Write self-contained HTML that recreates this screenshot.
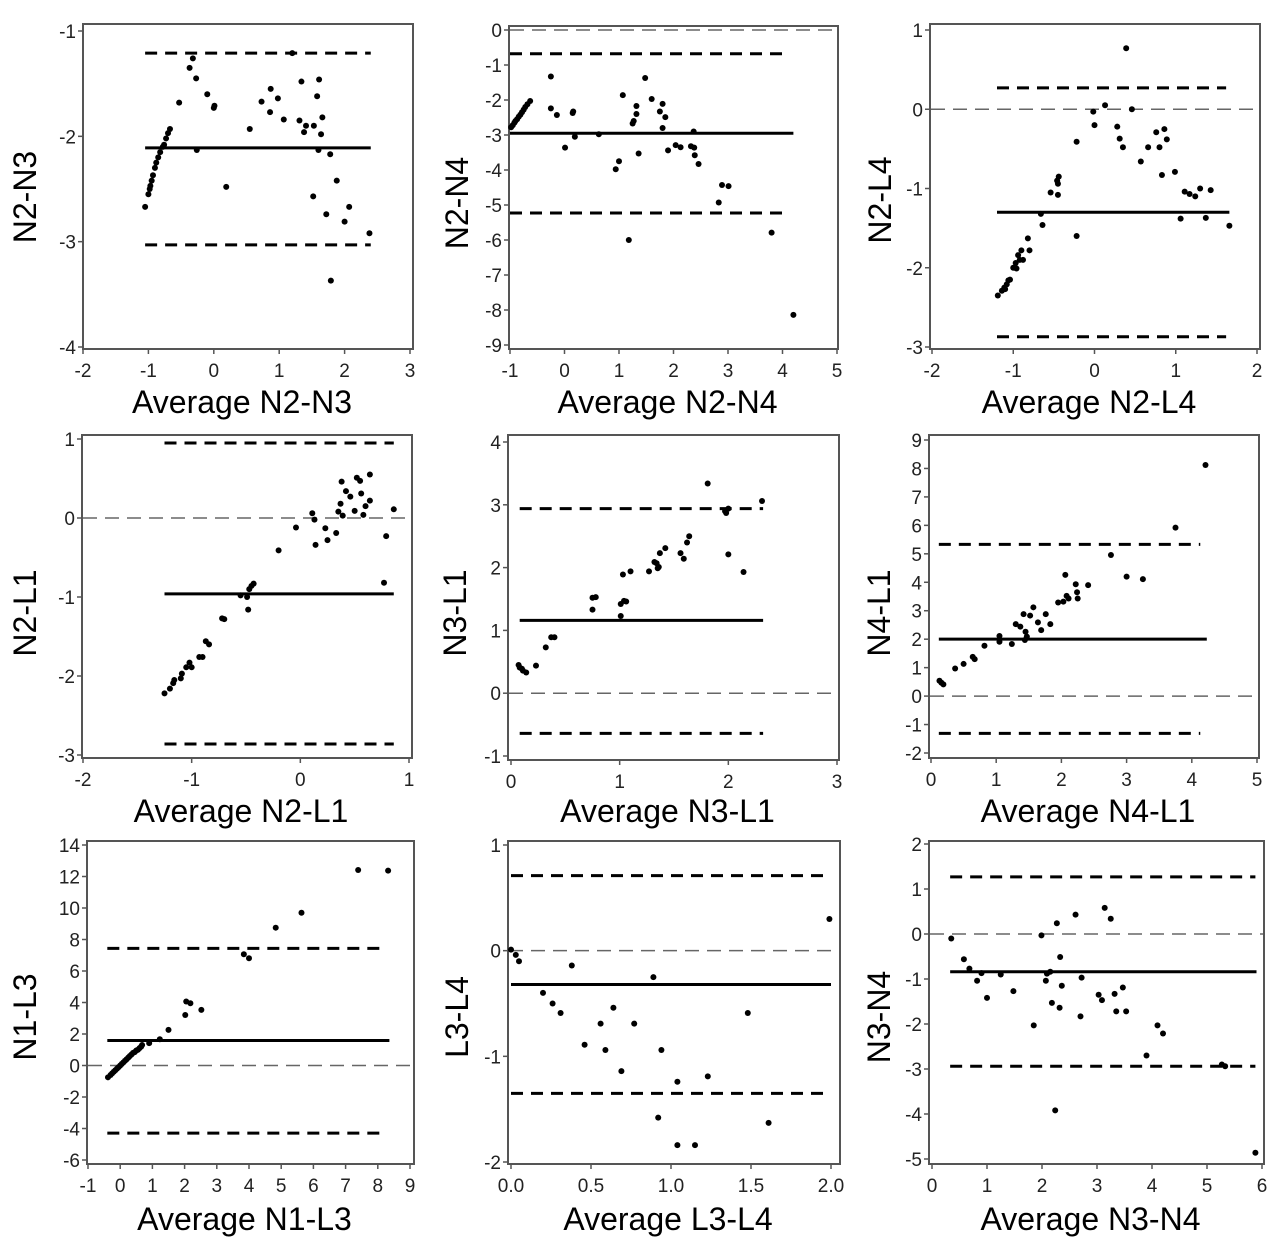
<!DOCTYPE html>
<html><head><meta charset="utf-8"><style>
html,body{margin:0;padding:0;background:#fff;}
svg{display:block;font-family:"Liberation Sans",Arial,sans-serif;}
</style></head><body>
<svg id="chart" width="1280" height="1250" viewBox="0 0 1280 1250" xmlns="http://www.w3.org/2000/svg"></svg>
<script>
// ---- data (averages, differences, mean line, limits of agreement) ----
const p1Avg=[-1.05,-1.0,-0.98,-0.97,-0.95,-0.93,-0.9,-0.88,-0.85,-0.82,-0.78,-0.76,-0.73,-0.7,-0.67,-0.53,-0.37,-0.32,-0.27,-0.26,-0.1,0,0.01,0.19,0.55,0.73,0.86,0.87,0.98,1.07,1.2,1.31,1.34,1.38,1.41,1.52,1.53,1.58,1.61,1.6,1.64,1.66,1.72,1.78,1.79,1.88,2.0,2.07,2.38];
const p1Diff=[-2.67,-2.55,-2.5,-2.47,-2.42,-2.37,-2.3,-2.25,-2.2,-2.15,-2.1,-2.08,-2.02,-1.97,-1.93,-1.68,-1.35,-1.26,-1.45,-2.13,-1.6,-1.73,-1.71,-2.48,-1.93,-1.67,-1.77,-1.55,-1.64,-1.84,-1.21,-1.85,-1.48,-1.96,-1.9,-2.57,-1.9,-1.62,-1.46,-2.13,-1.98,-1.82,-2.74,-2.17,-3.37,-2.42,-2.81,-2.67,-2.92];
const p1Lines=[-2.11,-1.21,-3.03];

const p2Avg=[-0.98,-0.95,-0.92,-0.9,-0.87,-0.84,-0.81,-0.78,-0.75,-0.72,-0.68,-0.63,-0.25,-0.25,-0.14,0.01,0.15,0.16,0.19,0.63,0.94,1.0,1.07,1.18,1.25,1.27,1.32,1.32,1.36,1.48,1.6,1.75,1.8,1.85,1.8,1.9,2.04,2.13,2.32,2.38,2.37,2.39,2.46,2.83,2.89,3.01,3.8,4.2];
const p2Diff=[-2.78,-2.72,-2.65,-2.6,-2.55,-2.48,-2.42,-2.35,-2.28,-2.2,-2.12,-2.03,-1.33,-2.24,-2.43,-3.36,-2.37,-2.33,-3.05,-2.98,-3.98,-3.75,-1.86,-6.0,-2.67,-2.6,-2.17,-2.4,-3.53,-1.37,-1.97,-2.33,-2.11,-2.49,-2.8,-3.44,-3.29,-3.35,-3.32,-3.36,-2.9,-3.58,-3.83,-4.93,-4.43,-4.46,-5.79,-8.14];
const p2Lines=[-2.95,-0.68,-5.23];

const p3Avg=[-1.19,-1.14,-1.11,-1.08,-1.04,-1.0,-0.97,-0.94,-0.9,-0.88,-0.82,-0.8,-1.1,-1.06,-0.96,-0.92,-0.66,-0.64,-0.54,-0.45,-0.46,-0.44,-0.45,-0.22,-0.22,-0.015,0,0.13,0.39,0.46,0.28,0.31,0.35,0.57,0.66,0.76,0.8,0.83,0.86,0.89,0.99,1.06,1.11,1.17,1.24,1.3,1.37,1.43,1.66];
const p3Diff=[-2.35,-2.29,-2.25,-2.21,-2.15,-2.0,-1.94,-1.84,-1.78,-1.9,-1.63,-1.78,-2.27,-2.16,-2.01,-1.9,-1.32,-1.46,-1.05,-1.08,-0.9,-0.85,-0.94,-0.41,-1.6,-0.03,-0.2,0.05,0.77,0.0,-0.22,-0.37,-0.48,-0.66,-0.48,-0.29,-0.48,-0.83,-0.25,-0.38,-0.79,-1.38,-1.04,-1.07,-1.1,-1.0,-1.37,-1.02,-1.47];
const p3Lines=[-1.3,0.27,-2.87];

const p4Avg=[-1.25,-1.2,-1.17,-1.16,-1.1,-1.09,-1.05,-1.02,-1.0,-0.93,-0.9,-0.87,-0.84,-0.72,-0.7,-0.55,-0.49,-0.48,-0.47,-0.45,-0.43,-0.2,-0.04,0.11,0.13,0.14,0.23,0.25,0.33,0.35,0.37,0.38,0.39,0.42,0.46,0.5,0.52,0.55,0.56,0.58,0.6,0.64,0.64,0.77,0.79,0.86];
const p4Diff=[-2.22,-2.16,-2.09,-2.05,-2.03,-1.97,-1.89,-1.83,-1.89,-1.76,-1.76,-1.56,-1.6,-1.27,-1.28,-0.98,-1.0,-1.16,-0.9,-0.86,-0.83,-0.41,-0.12,0.06,-0.02,-0.34,-0.13,-0.28,-0.19,0.08,0.18,0.46,0.03,0.34,0.27,0.09,0.51,0.47,0.31,0.04,0.15,0.55,0.22,-0.82,-0.23,0.11];
const p4Lines=[-0.96,0.95,-2.86];

const p5Avg=[0.07,0.08,0.1,0.11,0.14,0.23,0.32,0.37,0.4,0.75,0.75,0.78,1.01,1.01,1.04,1.06,1.03,1.1,1.27,1.32,1.34,1.35,1.36,1.37,1.42,1.56,1.59,1.62,1.64,1.81,1.97,1.98,2.0,2.0,2.14,2.31];
const p5Diff=[0.45,0.41,0.39,0.36,0.33,0.44,0.73,0.89,0.89,1.33,1.52,1.53,1.23,1.42,1.47,1.46,1.89,1.94,1.94,2.09,2.07,1.99,2.01,2.23,2.31,2.23,2.14,2.4,2.5,3.34,2.9,2.87,2.94,2.21,1.93,3.06];
const p5Lines=[1.16,2.94,-0.64];

const p6Avg=[0.13,0.16,0.19,0.37,0.5,0.64,0.67,0.82,1.05,1.05,1.24,1.3,1.37,1.42,1.45,1.44,1.47,1.52,1.57,1.64,1.69,1.76,1.83,1.95,2.03,2.06,2.08,2.11,2.22,2.24,2.25,2.41,2.76,3.0,3.25,3.75,4.21];
const p6Diff=[0.54,0.47,0.41,0.97,1.13,1.38,1.3,1.77,2.11,1.91,1.83,2.53,2.44,2.88,2.26,1.97,2.09,2.83,3.12,2.59,2.32,2.88,2.53,3.29,3.32,4.26,3.52,3.43,3.93,3.65,3.43,3.9,4.96,4.2,4.11,5.92,8.12];
const p6Lines=[2.0,5.33,-1.31];

const p7Avg=[-0.38,-0.3,-0.25,-0.2,-0.15,-0.1,-0.05,0,0.05,0.1,0.15,0.2,0.25,0.3,0.35,0.4,0.45,0.5,0.55,0.6,0.65,0.68,0.9,1.23,1.5,2.02,2.05,2.18,2.52,3.84,4.0,4.83,5.63,7.39,8.32];
const p7Diff=[-0.75,-0.6,-0.5,-0.4,-0.3,-0.2,-0.1,0,0.1,0.2,0.3,0.4,0.5,0.6,0.7,0.8,0.85,0.95,1.0,1.1,1.2,1.3,1.42,1.67,2.26,3.21,4.06,3.95,3.53,7.06,6.81,8.75,9.7,12.41,12.37];
const p7Lines=[1.59,7.44,-4.29];

const p8Avg=[0,0.03,0.05,0.2,0.26,0.31,0.38,0.46,0.56,0.59,0.64,0.69,0.77,0.89,0.92,0.94,1.04,1.04,1.15,1.23,1.48,1.61,1.99];
const p8Diff=[0.01,-0.04,-0.1,-0.4,-0.5,-0.59,-0.14,-0.89,-0.69,-0.94,-0.54,-1.14,-0.69,-0.25,-1.58,-0.94,-1.24,-1.84,-1.84,-1.19,-0.59,-1.63,0.3];
const p8Lines=[-0.32,0.71,-1.35];

const p9Avg=[0.35,0.58,0.68,0.82,0.9,1.0,1.25,1.48,1.85,1.99,2.07,2.09,2.15,2.18,2.27,2.24,2.32,2.33,2.36,2.61,2.7,2.72,3.03,3.09,3.14,3.25,3.32,3.35,3.47,3.53,3.9,4.1,4.2,5.27,5.33,5.88];
const p9Diff=[-0.1,-0.56,-0.77,-1.04,-0.87,-1.42,-0.9,-1.27,-2.03,-0.03,-1.04,-0.88,-0.84,-1.53,0.24,-3.92,-1.64,-0.51,-1.15,0.43,-1.83,-0.97,-1.35,-1.47,0.58,0.34,-1.33,-1.72,-1.19,-1.72,-2.7,-2.03,-2.21,-2.9,-2.94,-4.86];
const p9Lines=[-0.84,1.27,-2.94];

// ---- layout (pixels, not data) ----
const panels=[
 {id:'n2-n3',yt:'N2-N3',xt:'Average N2-N3',avg:p1Avg,diff:p1Diff,lines:p1Lines,fr:[83,24,413,349],xd:[-2,3],xp:[83,410],yd:[-1,-4],yp:[31,347],xs:1,ys:1,zero:false,l0:-1.05,l1:2.4,s1:2.4,ytx:25,yty:197,xtb:413},
 {id:'n2-n4',yt:'N2-N4',xt:'Average N2-N4',avg:p2Avg,diff:p2Diff,lines:p2Lines,fr:[509,26,838,349],xd:[-1,5],xp:[510,837],yd:[0,-9],yp:[30,345],xs:1,ys:1,zero:true,l0:-1.0,l1:4.08,s1:4.2,ytx:457,yty:203,xtb:413},
 {id:'n2-l4',yt:'N2-L4',xt:'Average N2-L4',avg:p3Avg,diff:p3Diff,lines:p3Lines,fr:[930,24,1260,349],xd:[-2,2],xp:[932,1257],yd:[1,-3],yp:[30,347],xs:1,ys:1,zero:true,l0:-1.2,l1:1.62,s1:1.66,ytx:880,yty:200,xtb:413},
 {id:'n2-l1',yt:'N2-L1',xt:'Average N2-L1',avg:p4Avg,diff:p4Diff,lines:p4Lines,fr:[82,435,412,758],xd:[-2,1],xp:[83,409],yd:[1,-3],yp:[439,755],xs:1,ys:1,zero:true,l0:-1.25,l1:0.86,s1:0.86,ytx:25,yty:613,xtb:822},
 {id:'n3-l1',yt:'N3-L1',xt:'Average N3-L1',avg:p5Avg,diff:p5Diff,lines:p5Lines,fr:[508,435,839,760],xd:[0,3],xp:[511,837],yd:[4,-1],yp:[442,756],xs:1,ys:1,zero:true,l0:0.08,l1:2.32,s1:2.32,ytx:455,yty:613,xtb:822},
 {id:'n4-l1',yt:'N4-L1',xt:'Average N4-L1',avg:p6Avg,diff:p6Diff,lines:p6Lines,fr:[929,435,1259,758],xd:[0,5],xp:[931,1257],yd:[9,-2],yp:[440,753],xs:1,ys:1,zero:true,l0:0.12,l1:4.13,s1:4.23,ytx:879,yty:613,xtb:822},
 {id:'n1-l3',yt:'N1-L3',xt:'Average N1-L3',avg:p7Avg,diff:p7Diff,lines:p7Lines,fr:[87,841,414,1164],xd:[-1,9],xp:[88,410],yd:[14,-6],yp:[845,1160],xs:1,ys:2,zero:true,l0:-0.4,l1:8.26,s1:8.36,ytx:25,yty:1017,xtb:1230},
 {id:'l3-l4',yt:'L3-L4',xt:'Average L3-L4',avg:p8Avg,diff:p8Diff,lines:p8Lines,fr:[508,841,840,1164],xd:[0,2],xp:[511,831],yd:[1,-2],yp:[845,1162],xs:0.5,ys:1,zero:true,l0:0,l1:1.99,s1:2.0,ytx:457,yty:1017,xtb:1230,dec:true},
 {id:'n3-n4',yt:'N3-N4',xt:'Average N3-N4',avg:p9Avg,diff:p9Diff,lines:p9Lines,fr:[929,841,1264,1164],xd:[0,6],xp:[932,1262],yd:[2,-5],yp:[844,1159],xs:1,ys:1,zero:true,l0:0.33,l1:5.88,s1:5.9,ytx:879,yty:1017,xtb:1230}
];

const NS='http://www.w3.org/2000/svg';
const svg=document.getElementById('chart');
function mk(tag,attrs,parent){const e=document.createElementNS(NS,tag);for(const k in attrs)e.setAttribute(k,attrs[k]);parent.appendChild(e);return e;}

panels.forEach(p=>{
  const g=mk('g',{},svg);
  
  
  const sx=v=>p.xp[0]+(v-p.xd[0])*(p.xp[1]-p.xp[0])/(p.xd[1]-p.xd[0]);
  const sy=v=>p.yp[0]+(v-p.yd[0])*(p.yp[1]-p.yp[0])/(p.yd[1]-p.yd[0]);
  const [L,T,R,B]=p.fr;
  const fr=mk('rect',{x:L,y:T,width:R-L,height:B-T,fill:'none',stroke:'#555',"stroke-width":2},g);
  
  
  const nx=Math.round((p.xd[1]-p.xd[0])/p.xs);
  for(let i=0;i<=nx;i++){
    const v=p.xd[0]+i*p.xs;const x=sx(v);
    const t=mk('line',{x1:x,y1:B,x2:x,y2:B+5,stroke:'#555',"stroke-width":1.5},g);
    
    
    const lb=mk('text',{x:x,y:B+28,"text-anchor":'middle',"font-size":19,fill:'#222'},g);
    lb.textContent=p.dec?v.toFixed(1):String(v);
    
    
  }
  const ny=Math.round((p.yd[0]-p.yd[1])/p.ys);
  for(let i=0;i<=ny;i++){
    const v=p.yd[0]-i*p.ys;const y=sy(v);
    const t=mk('line',{x1:L-5,y1:y,x2:L,y2:y,stroke:'#555',"stroke-width":1.5},g);
    
    
    const lb=mk('text',{x:L-7,y:y+7,"text-anchor":'end',"font-size":19,fill:'#222'},g);
    lb.textContent=String(v);
    
    
  }
  if(p.zero){
    const z=mk('line',{x1:L+1,y1:sy(0),x2:R-1,y2:sy(0),stroke:'#666',"stroke-width":1.5,"stroke-dasharray":'14 8'},g);
    
    
  }
  const mean=mk('line',{x1:sx(p.l0),y1:sy(p.lines[0]),x2:sx(p.s1),y2:sy(p.lines[0]),stroke:'#000',"stroke-width":3},g);
  
  
  [1,2].forEach(k=>{
    const d=mk('line',{x1:sx(p.l0),y1:sy(p.lines[k]),x2:sx(p.l1),y2:sy(p.lines[k]),stroke:'#000',"stroke-width":3,"stroke-dasharray":'12 8'},g);
    
    
  });
  p.avg.forEach((a,i)=>{
    const c=mk('circle',{cx:sx(a),cy:sy(p.diff[i]),r:3,fill:'#000'},g);
    
    
  });
  const yt=mk('text',{x:p.ytx,y:p.yty,"text-anchor":'middle',"dominant-baseline":'central',"font-size":32,fill:'#000',transform:'rotate(-90 '+p.ytx+' '+p.yty+')'},g);
  yt.textContent=p.yt;
  
  
  const xt=mk('text',{x:(L+R)/2-6,y:p.xtb,"text-anchor":'middle',"font-size":32,fill:'#000'},g);
  xt.textContent=p.xt;
  
  
});
</script>
</body></html>
